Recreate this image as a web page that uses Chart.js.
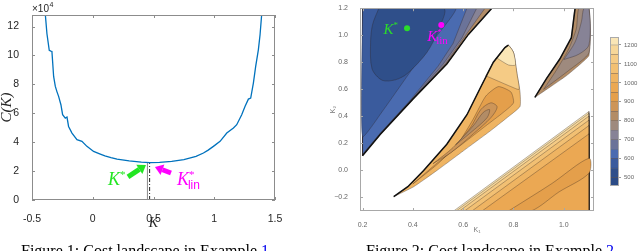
<!DOCTYPE html>
<html>
<head>
<meta charset="utf-8">
<script src="https://cdn.jsdelivr.net/npm/chart.js@4.4.1/dist/chart.umd.min.js"></script>
<style>
  body { margin: 0; width: 640px; height: 251px; background: #fff; overflow: hidden; position: relative; }
  canvas { position: absolute; }
  #fig1 { left: 0; top: 0; }
  #fig2 { left: 320px; top: 0; }
  #bar2 { left: 600px; top: 30px; }
  .cap { position: absolute; top: 243px; font: 16px/16px "Liberation Serif", serif; white-space: nowrap; transform: translateX(-50%); color: #000; }
  .cap span { color: #0000ee; }
</style>
</head>
<body>
<canvas id="fig1" width="300" height="251"></canvas>
<canvas id="fig2" width="290" height="251"></canvas>
<canvas id="bar2" width="40" height="165"></canvas>
<div class="cap" style="left:145px">Figure 1: Cost landscape in Example <span>1</span></div>
<div class="cap" style="left:490px">Figure 2: Cost landscape in Example <span>2</span></div>
<script>
// ---------- Figure 1: cost C(K) over the gain K ----------
const gainK = [-0.395, -0.39, -0.377, -0.358, -0.345, -0.336, -0.322, -0.308, -0.295, -0.281, -0.262, -0.248,
  -0.226, -0.212, -0.199, -0.171, -0.13, -0.089, -0.048, 0.007, 0.062, 0.1, 0.15, 0.2, 0.3, 0.4, 0.47, 0.55,
  0.65, 0.75, 0.85, 0.911, 0.95, 0.993, 1.048, 1.103, 1.158, 1.185, 1.226, 1.253, 1.281, 1.3, 1.322, 1.341,
  1.363, 1.377, 1.39, 1.395];
const cost = [133000, 128000, 115000, 103500, 103000, 102800, 85500, 78600, 75000, 71700, 65900, 59000,
  56700, 57400, 50900, 46300, 41700, 40600, 37100, 33600, 31800, 30500, 29300, 28300, 27000, 26200, 25900, 26100,
  26700, 28000, 30200, 32500, 34500, 37100, 40600, 46300, 49800, 52100, 59000, 64700, 69800, 70500, 80900, 92400,
  103900, 114300, 128000, 133000];
const kTicks = [-0.5, 0, 0.5, 1, 1.5];
const costTicks = [0, 20000, 40000, 60000, 80000, 100000, 120000];
const kStar = 0.45;          // K*
const kStarLin = 0.468;      // K*_lin
const costAtOptimum = 25950;

// ---------- Figure 2: contour landscape over (K1, K2) ----------
const k1Ticks = [0.2, 0.4, 0.6, 0.8, 1.0];
const k2Ticks = [-0.2, 0, 0.2, 0.4, 0.6, 0.8, 1.0, 1.2];
const colorLevels = [450, 500, 550, 600, 650, 700, 750, 800, 850, 900, 950, 1000, 1050, 1100, 1150, 1200, 1250];
const levelTicks = [500, 600, 700, 800, 900, 1000, 1100, 1200];
const kStarPoint = [0.377, 1.052];
const kLinPoint = [0.513, 1.076];

// region boundaries, [K1, K2]
const lowRight15 = [[0.562, -0.3], [1.1, 0.436], [1.1, -0.3]];
const lowRight14 = [[0.572, -0.3], [1.1, 0.422], [1.1, -0.3]];
const lowRight13 = [[0.585, -0.3], [1.1, 0.402], [1.1, -0.3]];
const lowRight12 = [[0.605, -0.3], [1.1, 0.372], [1.1, -0.3]];
const lowRight11 = [[0.635, -0.3], [1.1, 0.332], [1.1, -0.3]];
const lowRight10 = [[0.675, -0.3], [1.1, 0.27], [1.1, -0.3]];
const lowRight9 = [[0.78, -0.3], [0.95, -0.1], [1.1, 0.09], [1.1, -0.02], [0.98, -0.16], [0.87, -0.3]];

const spikeOuter = [[0.324, -0.194], [0.38, -0.12], [0.443, 0.0], [0.535, 0.194], [0.615, 0.412], [0.667, 0.606],
  [0.72, 0.8], [0.766, 0.909], [0.78, 0.926], [0.80, 0.873], [0.815, 0.703], [0.826, 0.582], [0.826, 0.473],
  [0.773, 0.388], [0.707, 0.291], [0.601, 0.145], [0.496, 0.0], [0.403, -0.121]];
const spikeTop = [[0.69, 0.70], [0.72, 0.8], [0.766, 0.909], [0.78, 0.926], [0.80, 0.873], [0.815, 0.703],
  [0.822, 0.6], [0.79, 0.62], [0.74, 0.66]];
const spikeTip = [[0.735, 0.83], [0.766, 0.909], [0.78, 0.926], [0.80, 0.873], [0.808, 0.78], [0.78, 0.78]];
const spikeInner = [[0.40, -0.1], [0.5, 0.05], [0.58, 0.2], [0.64, 0.38], [0.69, 0.55], [0.74, 0.62], [0.79, 0.58],
  [0.80, 0.5], [0.76, 0.43], [0.69, 0.33], [0.60, 0.2], [0.5, 0.06]];
const spikeRing = [[0.48, 0.05], [0.56, 0.17], [0.63, 0.32], [0.67, 0.45], [0.71, 0.50], [0.735, 0.47], [0.71, 0.39],
  [0.64, 0.27], [0.55, 0.13]];
const spikeCore = [[0.57, 0.19], [0.64, 0.33], [0.68, 0.43], [0.705, 0.45], [0.695, 0.39], [0.63, 0.28]];

const greyOuter = [[0.885, 0.54], [0.931, 0.679], [0.984, 0.824], [1.03, 0.982], [1.045, 1.2], [1.1, 1.2],
  [1.1, 0.85], [1.01, 0.70]];
const greyMid = [[0.92, 0.6], [0.97, 0.74], [1.02, 0.9], [1.05, 1.05], [1.06, 1.2], [1.1, 1.2], [1.1, 0.87],
  [1.02, 0.74]];
const greyCore = [[1.0, 0.82], [1.045, 0.95], [1.07, 1.1], [1.08, 1.2], [1.1, 1.2], [1.1, 0.93], [1.06, 0.86]];

const blueEdge = [[0.2, 1.2], [0.2, 0.109], [0.271, 0.267], [0.403, 0.533], [0.535, 0.788], [0.621, 1.006], [0.714, 1.2]];
const blueBand5 = [[0.2, 1.2], [0.2, 0.111], [0.271, 0.268], [0.403, 0.534], [0.53, 0.79], [0.61, 1.0], [0.687, 1.2]];
const blueBand4 = [[0.2, 1.2], [0.2, 0.113], [0.27, 0.27], [0.40, 0.535], [0.52, 0.785], [0.595, 0.98], [0.654, 1.2]];
const blueBand3 = [[0.2, 1.2], [0.2, 0.12], [0.27, 0.275], [0.39, 0.52], [0.5, 0.77], [0.56, 0.94], [0.615, 1.2]];
const blueMain = [[0.2, 1.2], [0.2, 0.25], [0.28, 0.44], [0.39, 0.73], [0.48, 0.96], [0.57, 1.2]];
const blueCore = [[0.265, 1.2], [0.24, 1.08], [0.232, 0.945], [0.238, 0.751], [0.278, 0.667], [0.33, 0.67],
  [0.377, 0.715], [0.456, 0.873], [0.502, 1.04], [0.522, 1.2]];

const bandColors = ['#2b4b86', '#2f4f8a', '#3a5b9d', '#4a6bb0', '#6b7399', '#878396', '#9e8a7e', '#b28c66',
  '#cd9558', '#e49f4b', '#eba853', '#efb462', '#f2c073', '#f5cb85', '#f7d799', '#fae6b6'];

// drawing order, bottom first: [outline, band index, tension]
const contourRegions = [
  [lowRight15, 15, 0], [lowRight14, 14, 0], [lowRight13, 13, 0], [lowRight12, 12, 0], [lowRight11, 11, 0],
  [lowRight10, 10, 0], [lowRight9, 9, 0.3],
  [spikeOuter, 11, 0.15], [spikeTop, 13, 0.2], [spikeTip, 15, 0.2], [spikeInner, 9, 0.2], [spikeRing, 8, 0.3],
  [spikeCore, 7, 0.3],
  [greyOuter, 7, 0.1], [greyMid, 6, 0.2], [greyCore, 5, 0.3],
  [blueEdge, 7, 0], [blueBand5, 5, 0], [blueBand4, 4, 0], [blueBand3, 3, 0], [blueMain, 2, 0.15], [blueCore, 1, 0.3]
];

// ---------- shared plugins ----------
const framePlugin = {
  id: 'frame',
  afterDatasetsDraw(chart, args, opts) {
    const {ctx, chartArea: a} = chart;
    ctx.save();
    ctx.strokeStyle = opts.color;
    ctx.lineWidth = 1;
    ctx.strokeRect(Math.round(a.left) + 0.5, Math.round(a.top) + 0.5,
      Math.round(a.right - a.left) - 1, Math.round(a.bottom - a.top) - 1);
    if (opts.tick) {
      ctx.beginPath();
      const sx = chart.scales.x, sy = chart.scales.y;
      if (sx && sx.options.display !== false) sx.ticks.forEach(t => {
        const p = Math.round(sx.getPixelForValue(t.value)) + 0.5;
        ctx.moveTo(p, a.bottom); ctx.lineTo(p, a.bottom - opts.tick);
        ctx.moveTo(p, a.top); ctx.lineTo(p, a.top + opts.tick);
      });
      sy.ticks.forEach(t => {
        const p = Math.round(sy.getPixelForValue(t.value)) + 0.5;
        ctx.moveTo(a.left, p); ctx.lineTo(a.left + opts.tick, p);
        ctx.moveTo(a.right, p); ctx.lineTo(a.right - opts.tick, p);
      });
      ctx.stroke();
    }
    ctx.restore();
  }
};

const notesPlugin = {
  id: 'notes',
  afterDatasetsDraw(chart, args, opts) {
    const {ctx, chartArea: a} = chart;
    const sx = chart.scales.x, sy = chart.scales.y;
    ctx.save();
    (opts.arrows || []).forEach(ar => {
      const x0 = sx.getPixelForValue(ar.from[0]), y0 = sy.getPixelForValue(ar.from[1]);
      const x1 = sx.getPixelForValue(ar.to[0]), y1 = sy.getPixelForValue(ar.to[1]);
      const ang = Math.atan2(y1 - y0, x1 - x0);
      const bx = x1 - 8 * Math.cos(ang), by = y1 - 8 * Math.sin(ang);
      ctx.strokeStyle = ar.color; ctx.fillStyle = ar.color; ctx.lineWidth = 5;
      ctx.beginPath(); ctx.moveTo(x0, y0); ctx.lineTo(bx, by); ctx.stroke();
      ctx.beginPath(); ctx.moveTo(x1, y1);
      ctx.lineTo(bx + 5.5 * Math.sin(ang), by - 5.5 * Math.cos(ang));
      ctx.lineTo(bx - 5.5 * Math.sin(ang), by + 5.5 * Math.cos(ang));
      ctx.closePath(); ctx.fill();
    });
    ctx.textAlign = 'left'; ctx.textBaseline = 'alphabetic';
    (opts.labels || []).forEach(l => {
      const px = sx.getPixelForValue(l.at[0]), py = sy.getPixelForValue(l.at[1]);
      ctx.fillStyle = l.color;
      ctx.font = `italic ${l.size}px "Liberation Serif"`;
      ctx.fillText('K', px, py);
      const w = ctx.measureText('K').width;
      ctx.font = `${Math.round(l.size * 0.62)}px "Liberation Serif"`;
      ctx.fillText('*', px + w, py - l.size * 0.36);
      if (l.sub) { ctx.font = l.subFont; ctx.fillText(l.sub, px + w - 1, py + l.size * 0.22); }
    });
    if (opts.exponent) {
      ctx.fillStyle = '#262626';
      ctx.font = '10px "Liberation Sans"';
      ctx.fillText('\u00d710', a.left, a.top - 3);
      const w = ctx.measureText('\u00d710').width;
      ctx.font = '7px "Liberation Sans"';
      ctx.fillText('4', a.left + w + 0.5, a.top - 8);
    }
    ctx.restore();
  }
};

// ---------- Figure 1 chart ----------
const matlabTick = {family: '"Liberation Sans"', size: 10.5};
new Chart(document.getElementById('fig1'), {
  type: 'scatter',
  data: {
    datasets: [
      {data: gainK.map((k, i) => ({x: k, y: cost[i]})), showLine: true, borderColor: '#0072BD', borderWidth: 1.3,
        pointRadius: 0, order: 0},
      {data: [{x: kStar, y: 0}, {x: kStar, y: costAtOptimum}], showLine: true, borderColor: '#8a8a8a',
        borderWidth: 1, pointRadius: 0, order: 1},
      {data: [{x: kStarLin, y: 0}, {x: kStarLin, y: costAtOptimum}], showLine: true, borderColor: '#222',
        borderWidth: 1, borderDash: [4, 2, 1, 2], pointRadius: 0, order: 2}
    ]
  },
  options: {
    responsive: false, animation: false, devicePixelRatio: 1,
    layout: {padding: {top: 15, right: 25, left: 0, bottom: 0}},
    plugins: {
      legend: {display: false}, tooltip: {enabled: false},
      frame: {color: '#8c8c8c', tick: 3},
      notes: {
        exponent: true,
        arrows: [
          {from: [0.29, 16000], to: [0.438, 24300], color: '#22e622'},
          {from: [0.644, 18700], to: [0.512, 22900], color: '#ff00ff'}
        ],
        labels: [
          {at: [0.125, 10400], color: '#22e622', size: 18},
          {at: [0.693, 10400], color: '#ff00ff', size: 18, sub: 'lin', subFont: '12px "Liberation Sans"'}
        ]
      }
    },
    scales: {
      x: {
        type: 'linear', min: -0.5, max: 1.5,
        afterBuildTicks: s => { s.ticks = kTicks.map(v => ({value: v})); },
        afterFit: s => { s.height = 51; },
        ticks: {font: matlabTick, color: '#262626', padding: 5, maxRotation: 0, autoSkip: false, callback: v => String(v)},
        grid: {display: false}, border: {display: false},
        title: {display: true, text: 'K', color: '#262626', padding: {top: 0, bottom: 21},
          font: {family: '"Liberation Serif"', style: 'italic', size: 14, lineHeight: 1}}
      },
      y: {
        min: 0, max: 128000,
        afterBuildTicks: s => { s.ticks = costTicks.map(v => ({value: v})); },
        afterFit: s => { s.width = 32; },
        ticks: {font: matlabTick, color: '#262626', padding: 5, callback: v => v / 10000},
        grid: {display: false}, border: {display: false},
        title: {display: true, text: 'C(K)', color: '#262626', padding: {top: 0, bottom: 0},
          font: {family: '"Liberation Serif"', style: 'italic', size: 15, lineHeight: 1}}
      }
    }
  },
  plugins: [framePlugin, notesPlugin]
});

// ---------- Figure 2 contour chart ----------
const contourSets = contourRegions.map(([pts, band, tension]) => ({
  data: pts.concat([pts[0]]).map(([a, b]) => ({x: a, y: b})),
  showLine: true, fill: 'shape', backgroundColor: bandColors[band],
  borderColor: 'rgba(45,35,30,0.55)', borderWidth: 0.6, pointRadius: 0, tension: tension
}));
const edgeLines = [blueEdge.slice(1), spikeOuter.slice(0, 9), greyOuter.slice(0, 5)].map(pts => ({
  data: pts.map(([a, b]) => ({x: a, y: b})),
  showLine: true, fill: false, borderColor: '#111', borderWidth: 1.5, pointRadius: 0
}));
const markerSets = [
  {data: [{x: kStarPoint[0], y: kStarPoint[1]}], backgroundColor: '#2bdc2b', pointRadius: 3, borderWidth: 0},
  {data: [{x: kLinPoint[0], y: kLinPoint[1]}], backgroundColor: '#ff00ff', pointRadius: 3, borderWidth: 0}
];
const fig2Sets = contourSets.concat(edgeLines, markerSets).map((d, i) => Object.assign(d, {order: -i}));

const mmaTick = {family: '"Liberation Sans"', size: 7};
new Chart(document.getElementById('fig2'), {
  type: 'scatter',
  data: {datasets: fig2Sets},
  options: {
    responsive: false, animation: false, devicePixelRatio: 1,
    layout: {padding: {top: 4, right: 16, left: 0, bottom: 0}},
    plugins: {
      legend: {display: false}, tooltip: {enabled: false},
      frame: {color: '#a8a8a8', tick: 3},
      notes: {
        labels: [
          {at: [0.283, 1.011], color: '#2bdc2b', size: 15},
          {at: [0.457, 0.96], color: '#ff00ff', size: 15, sub: 'lin', subFont: '11px "Liberation Serif"'}
        ]
      }
    },
    scales: {
      x: {
        type: 'linear', min: 0.19, max: 1.12,
        afterBuildTicks: s => { s.ticks = k1Ticks.map(v => ({value: v})); },
        afterFit: s => { s.height = 40; },
        ticks: {font: mmaTick, color: '#666', padding: 2, maxRotation: 0, autoSkip: false, callback: v => v.toFixed(1)},
        grid: {display: false}, border: {display: false},
        title: {display: true, text: 'K\u2081', color: '#777', padding: {top: 0, bottom: 17},
          font: {family: '"Liberation Sans", "DejaVu Sans"', size: 7, lineHeight: 1}}
      },
      y: {
        min: -0.3, max: 1.2,
        afterBuildTicks: s => { s.ticks = k2Ticks.map(v => ({value: v})); },
        afterFit: s => { s.width = 40; },
        ticks: {font: mmaTick, color: '#666', padding: 4, autoSkip: false,
          callback: v => (v < 0 ? '\u2212' + Math.abs(v).toFixed(1) : v.toFixed(1))},
        grid: {display: false}, border: {display: false},
        title: {display: true, text: 'K\u2082', color: '#777', padding: {top: 10, bottom: 0},
          font: {family: '"Liberation Sans", "DejaVu Sans"', size: 7, lineHeight: 1}}
      }
    }
  },
  plugins: [framePlugin, notesPlugin]
});

// ---------- Figure 2 colour bar ----------
new Chart(document.getElementById('bar2'), {
  type: 'bar',
  data: {
    labels: ['cost'],
    datasets: bandColors.map((c, i) => ({
      data: [[colorLevels[i], colorLevels[i + 1]]], backgroundColor: c,
      borderColor: 'rgba(50,40,40,0.6)', borderWidth: {top: 0.5, bottom: 0.5, left: 0, right: 0}, borderSkipped: false,
      grouped: false, barPercentage: 1, categoryPercentage: 1
    }))
  },
  options: {
    responsive: false, animation: false, devicePixelRatio: 1,
    layout: {padding: {top: 7, right: 0, left: 10, bottom: 9}},
    plugins: {legend: {display: false}, tooltip: {enabled: false}, frame: {color: '#aaa', tick: 0}},
    scales: {
      x: {display: false},
      y: {
        position: 'right', min: 456, max: 1242,
        afterBuildTicks: s => { s.ticks = levelTicks.map(v => ({value: v})); },
        afterFit: s => { s.width = 21; },
        ticks: {font: {family: '"Liberation Sans"', size: 6}, color: '#666', padding: 3, callback: v => String(v)},
        grid: {drawOnChartArea: false, drawTicks: true, tickLength: 2, color: '#999'},
        border: {display: false}
      }
    }
  },
  plugins: [framePlugin]
});
</script>
</body>
</html>
